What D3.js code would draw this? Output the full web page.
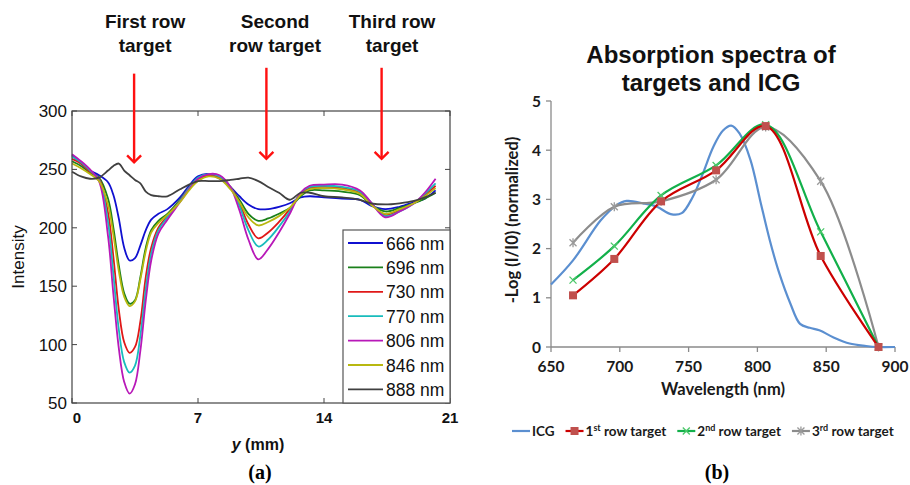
<!DOCTYPE html>
<html lang="en">
<head>
<meta charset="UTF-8">
<title>Intensity profiles and absorption spectra</title>
<script src="https://d3js.org/d3.v7.min.js"></script>
<style>
  body { margin: 0; background: #fff; }
  svg { display: block; background: #fff; }
  .arial { font-family: 'Liberation Sans', Arial, sans-serif; fill: #111; }
  .cal { font-family: Lato, 'Open Sans', sans-serif; font-weight: bold; fill: #1a1a1a; }
</style>
</head>
<body>
<svg width="910" height="485"></svg>
<script>
// ---- panel (a): intensity profiles along y (mm) ----
var posMm = [0, 0.5, 1, 1.5, 2, 2.3, 2.6, 2.9, 3.2, 3.5, 3.8, 4.1, 4.4, 4.8, 5.3, 6, 6.5, 7, 7.6, 8.2,
             8.8, 9.3, 9.8, 10.35, 10.9, 11.5, 12.1, 12.7, 13.2, 14, 15, 16, 16.6, 17.4, 18.2, 19, 19.6, 20.2];
var wavelengthsA = ["666 nm", "696 nm", "730 nm", "770 nm", "806 nm", "846 nm", "888 nm"];
var colorsA = ["#1010d0", "#1a801a", "#e01818", "#18bcbc", "#b818b8", "#b8b810", "#404040"];
var int666 = [262, 255, 249, 245, 239, 228, 208, 183, 172, 174, 185, 198, 207, 212, 216, 226, 236, 244, 246, 242,
              235, 227, 220, 216, 216, 218, 221, 226, 227, 226, 225, 224, 219, 216, 218, 222, 225, 232];
var int696 = [257, 253, 247, 243, 225, 200, 168, 144, 135, 138, 158, 183, 198, 206, 212, 224, 234, 242, 245, 243,
              234, 224, 212, 206, 208, 212, 217, 227, 232, 232, 231, 228, 220, 214, 217, 221, 225, 230];
var int730 = [259, 255, 248, 242, 213, 175, 130, 102, 93, 98, 120, 158, 183, 200, 210, 223, 234, 242, 245, 243,
              235, 221, 203, 191, 196, 205, 216, 229, 234, 235, 234, 230, 221, 211, 215, 221, 228, 236];
var int770 = [261, 256, 249, 241, 205, 160, 113, 85, 76, 82, 108, 148, 178, 198, 209, 223, 234, 243, 246, 244,
              235, 219, 198, 184, 190, 201, 214, 230, 235, 236, 235, 231, 222, 210, 214, 221, 229, 238];
var int806 = [263, 257, 250, 240, 193, 143, 97, 68, 58, 66, 95, 138, 172, 195, 207, 222, 233, 242, 246, 245,
              235, 215, 190, 173, 182, 196, 212, 230, 236, 237, 237, 232, 222, 209, 214, 221, 230, 242];
var int846 = [255, 251, 246, 240, 220, 194, 163, 141, 133, 137, 156, 180, 196, 204, 211, 222, 232, 240, 244, 242,
              233, 222, 209, 202, 205, 210, 217, 228, 233, 234, 233, 229, 220, 212, 216, 221, 227, 234];
var int888 = [248, 244, 242, 243, 249, 253, 255, 249, 245, 241, 238, 231, 228, 227, 227, 233, 237, 240, 240, 240,
              241, 242, 243, 240, 235, 230, 224, 230, 230, 227, 226, 224, 221, 220, 221, 223, 226, 230];
var seriesA = [int666, int696, int730, int770, int806, int846, int888];
var xTicksA = [0, 7, 14, 21];
var yTicksA = [50, 100, 150, 200, 250, 300];
var targetLabels = [["First row", "target"], ["Second", "row target"], ["Third row", "target"]];
var arrowMm = [3.45, 10.8, 17.2];
var arrowTop = [332, 337, 337];
var arrowTip = [256, 259, 259];
var labelMm = [4.06, 11.28, 17.78];

// ---- panel (b): absorption spectra ----
var specWl = [666, 696, 730, 770, 806, 846, 888];
var row1 = [1.05, 1.79, 2.96, 3.59, 4.49, 1.85, 0];
var row2 = [1.36, 2.05, 3.08, 3.69, 4.52, 2.34, 0];
var row3 = [2.12, 2.85, 2.96, 3.40, 4.47, 3.37, 0];
var icgWl = [650, 666, 686, 697, 705, 717, 727, 737, 745, 753, 760, 768, 775, 781, 787, 795, 802, 809, 816,
             824, 831, 838, 845, 855, 867, 879, 887, 900];
var icgAbs = [1.27, 1.76, 2.57, 2.87, 2.97, 2.92, 2.85, 2.70, 2.72, 3.05, 3.5, 4.07, 4.4, 4.5, 4.34, 3.8, 2.98,
              2.17, 1.49, 0.88, 0.47, 0.39, 0.34, 0.2, 0.07, 0.02, 0, 0];
var xTicksB = [650, 700, 750, 800, 850, 900];
var yTicksB = [0, 1, 2, 3, 4, 5];

var svg = d3.select("svg");

// ================= panel (a) =================
var xA = d3.scaleLinear().domain([0, 21]).range([72, 450]);
var yA = d3.scaleLinear().domain([50, 300]).range([403, 111]);
var gA = svg.append("g");

// curves
var lineA = d3.line()
    .x(function(d) { return xA(d[0]); })
    .y(function(d) { return yA(d[1]); })
    .curve(d3.curveCatmullRom.alpha(0.5));

seriesA.forEach(function(vals, i) {
    gA.append("path")
        .attr("d", lineA(posMm.map(function(p, j) { return [p, vals[j]]; })))
        .attr("fill", "none")
        .attr("stroke", colorsA[i])
        .attr("stroke-width", 1.8);
});

// frame + inward ticks
gA.append("rect")
    .attr("x", xA(0)).attr("y", yA(300))
    .attr("width", xA(21) - xA(0)).attr("height", yA(50) - yA(300))
    .attr("fill", "none").attr("stroke", "#444").attr("stroke-width", 1.2);

xTicksA.forEach(function(t) {
    gA.append("line").attr("x1", xA(t)).attr("x2", xA(t)).attr("y1", yA(50)).attr("y2", yA(50) - 5)
        .attr("stroke", "#444");
    gA.append("line").attr("x1", xA(t)).attr("x2", xA(t)).attr("y1", yA(300)).attr("y2", yA(300) + 5)
        .attr("stroke", "#444");
    gA.append("text").attr("class", "arial")
        .attr("x", xA(t) + (t === 0 ? 5 : 0)).attr("y", 423)
        .attr("text-anchor", "middle")
        .style("font-size", "15px").style("font-weight", "bold")
        .text(t);
});
yTicksA.forEach(function(t) {
    gA.append("line").attr("x1", xA(0)).attr("x2", xA(0) + 5).attr("y1", yA(t)).attr("y2", yA(t))
        .attr("stroke", "#444");
    gA.append("line").attr("x1", xA(21)).attr("x2", xA(21) - 5).attr("y1", yA(t)).attr("y2", yA(t))
        .attr("stroke", "#444");
    gA.append("text").attr("class", "arial")
        .attr("x", 67).attr("y", yA(t) + 6)
        .attr("text-anchor", "end")
        .style("font-size", "17px")
        .text(t);
});

// axis titles
gA.append("text").attr("class", "arial")
    .attr("transform", "translate(24,257) rotate(-90)")
    .attr("text-anchor", "middle")
    .style("font-size", "17px")
    .text("Intensity");

var yl = gA.append("text").attr("class", "arial")
    .attr("x", 258).attr("y", 450)
    .attr("text-anchor", "middle")
    .style("font-size", "16px").style("font-weight", "bold");
yl.append("tspan").style("font-style", "italic").text("y");
yl.append("tspan").text(" (mm)");

gA.append("text")
    .attr("x", 260).attr("y", 479)
    .attr("text-anchor", "middle")
    .style("font-family", "'Liberation Serif', 'Times New Roman', serif")
    .style("font-size", "20px").style("font-weight", "bold")
    .text("(a)");

// legend box
var legA = gA.append("g");
legA.append("rect")
    .attr("x", 343).attr("y", 230).attr("width", xA(21) - 343).attr("height", yA(50) - 230)
    .attr("fill", "#fff").attr("stroke", "#555").attr("stroke-width", 1.2);
wavelengthsA.forEach(function(w, i) {
    var yy = 243 + i * 24.4;
    legA.append("line").attr("x1", 348).attr("x2", 383).attr("y1", yy).attr("y2", yy)
        .attr("stroke", colorsA[i]).attr("stroke-width", 1.8);
    legA.append("text").attr("class", "arial")
        .attr("x", 386).attr("y", yy + 6.5)
        .style("font-size", "17.5px")
        .text(w);
});

// red arrows and labels
arrowMm.forEach(function(m, i) {
    var ax = xA(m), top = yA(arrowTop[i]), tip = yA(arrowTip[i]);
    gA.append("line").attr("x1", ax).attr("x2", ax).attr("y1", top).attr("y2", tip)
        .attr("stroke", "#ff1010").attr("stroke-width", 2.4);
    gA.append("path")
        .attr("d", "M" + (ax - 7) + "," + (tip - 7) + "L" + ax + "," + tip + "L" + (ax + 7) + "," + (tip - 7))
        .attr("fill", "none").attr("stroke", "#ff1010").attr("stroke-width", 2.4);
    var t = gA.append("text").attr("class", "arial")
        .attr("text-anchor", "middle")
        .style("font-size", "19px").style("font-weight", "bold");
    targetLabels[i].forEach(function(s, k) {
        t.append("tspan").attr("x", xA(labelMm[i])).attr("y", 28 + k * 23.5).text(s);
    });
});

// ================= panel (b) =================
var xB = d3.scaleLinear().domain([650, 900]).range([551, 895]);
var yB = d3.scaleLinear().domain([0, 5]).range([347, 101]);
var gB = svg.append("g");

gB.append("text").attr("class", "arial")
    .attr("text-anchor", "middle")
    .style("font-size", "24px").style("font-weight", "bold")
    .selectAll("tspan").data(["Absorption spectra of", "targets and ICG"]).enter()
    .append("tspan").attr("x", 711).attr("y", function(d, i) { return 63 + i * 28; })
    .text(function(d) { return d; });

// axes
gB.append("line").attr("x1", xB(650)).attr("x2", xB(650)).attr("y1", yB(0)).attr("y2", yB(5))
    .attr("stroke", "#8a8a8a").attr("stroke-width", 1.3);
gB.append("line").attr("x1", xB(650)).attr("x2", xB(900)).attr("y1", yB(0)).attr("y2", yB(0))
    .attr("stroke", "#8a8a8a").attr("stroke-width", 1.3);
yTicksB.forEach(function(t) {
    gB.append("line").attr("x1", xB(650) - 5).attr("x2", xB(650)).attr("y1", yB(t)).attr("y2", yB(t))
        .attr("stroke", "#8a8a8a").attr("stroke-width", 1.3);
    gB.append("text").attr("class", "cal")
        .attr("x", 541).attr("y", yB(t) + 5.5)
        .attr("text-anchor", "end")
        .style("font-size", "15.5px")
        .text(t);
});
xTicksB.forEach(function(t) {
    gB.append("line").attr("x1", xB(t)).attr("x2", xB(t)).attr("y1", yB(0)).attr("y2", yB(0) + 5)
        .attr("stroke", "#8a8a8a").attr("stroke-width", 1.3);
    gB.append("text").attr("class", "cal")
        .attr("x", xB(t)).attr("y", 372)
        .attr("text-anchor", "middle")
        .style("font-size", "15.5px")
        .text(t);
});

gB.append("text").attr("class", "cal")
    .attr("x", 723).attr("y", 395)
    .attr("text-anchor", "middle")
    .style("font-size", "16.5px")
    .text("Wavelength (nm)");
gB.append("text").attr("class", "cal")
    .attr("transform", "translate(518,220) rotate(-90)")
    .attr("text-anchor", "middle")
    .style("font-size", "16.5px")
    .text("-Log (I/I0) (normalized)");

var lineB = d3.line()
    .x(function(d) { return xB(d[0]); })
    .y(function(d) { return yB(d[1]); })
    .curve(d3.curveCatmullRom.alpha(0.5));

function zip(xs, ys) { return xs.map(function(x, i) { return [x, ys[i]]; }); }

gB.append("path").attr("d", lineB(zip(icgWl, icgAbs)))
    .attr("fill", "none").attr("stroke", "#5b8fd0").attr("stroke-width", 2.2);

var rows = [
    {vals: row3, line: "#8c8c8c", mark: "#9a9a9a", shape: "star"},
    {vals: row2, line: "#12b04a", mark: "#4cc86a", shape: "x"},
    {vals: row1, line: "#cc0000", mark: "#c0504d", shape: "square"}
];

function drawMarker(g, shape, cx, cy, col) {
    if (shape === "square") {
        g.append("rect").attr("x", cx - 4).attr("y", cy - 4).attr("width", 8).attr("height", 8)
            .attr("fill", col);
    } else {
        var r = 3.5;
        g.append("path")
            .attr("d", "M" + (cx - r) + "," + (cy - r) + "L" + (cx + r) + "," + (cy + r) +
                       "M" + (cx - r) + "," + (cy + r) + "L" + (cx + r) + "," + (cy - r) +
                       (shape === "star" ? "M" + cx + "," + (cy - r - 1) + "L" + cx + "," + (cy + r + 1) : ""))
            .attr("stroke", col).attr("stroke-width", 1.3).attr("fill", "none");
    }
}

rows.forEach(function(r) {
    gB.append("path").attr("d", lineB(zip(specWl, r.vals)))
        .attr("fill", "none").attr("stroke", r.line).attr("stroke-width", 2.2);
});
rows.forEach(function(r) {
    specWl.forEach(function(w, i) {
        drawMarker(gB, r.shape, xB(w), yB(r.vals[i]), r.mark);
    });
});

// legend (b)
var legItems = [
    {main: "ICG", sup: "", rest: "", line: "#5b8fd0", shape: null},
    {main: "1", sup: "st", rest: " row target", line: "#cc0000", mark: "#c0504d", shape: "square"},
    {main: "2", sup: "nd", rest: " row target", line: "#12b04a", mark: "#4cc86a", shape: "x"},
    {main: "3", sup: "rd", rest: " row target", line: "#8c8c8c", mark: "#9a9a9a", shape: "star"}
];
var lx = 512, ly = 431;
var legB = gB.append("g");
legItems.forEach(function(it) {
    legB.append("line").attr("x1", lx).attr("x2", lx + 18).attr("y1", ly).attr("y2", ly)
        .attr("stroke", it.line).attr("stroke-width", 2.2);
    if (it.shape) drawMarker(legB, it.shape, lx + 9, ly, it.mark);
    var t = legB.append("text").attr("class", "cal")
        .attr("x", lx + 20).attr("y", ly + 5)
        .style("font-size", "13.5px");
    t.append("tspan").text(it.main);
    if (it.sup) {
        t.append("tspan").attr("dy", -5).style("font-size", "9px").text(it.sup);
        t.append("tspan").attr("dy", 5).text(it.rest);
    }
    lx = lx + 20 + t.node().getComputedTextLength() + 11;
});

gB.append("text")
    .attr("x", 717).attr("y", 479)
    .attr("text-anchor", "middle")
    .style("font-family", "'Liberation Serif', 'Times New Roman', serif")
    .style("font-size", "20px").style("font-weight", "bold")
    .text("(b)");
</script>
</body>
</html>
